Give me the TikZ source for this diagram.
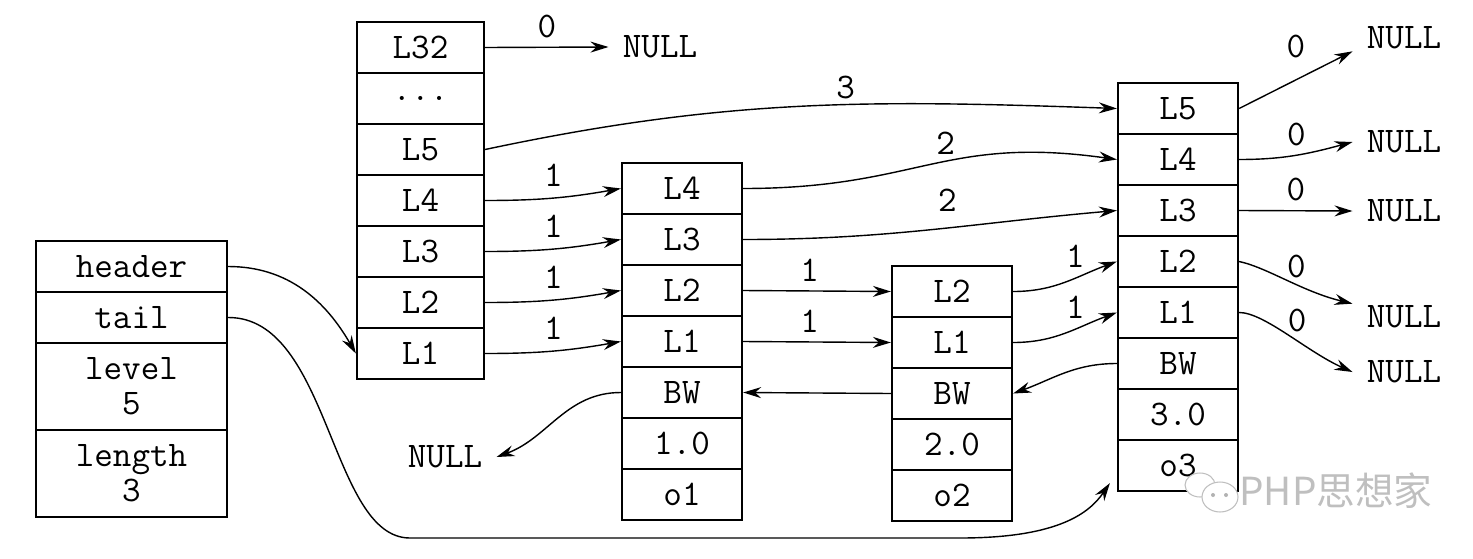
\documentclass[tikz,border=0pt]{standalone}
\usepackage{fontspec}
\newfontfamily\cjk{Noto Sans CJK SC}
\usepackage{tikz}
\usetikzlibrary{arrows.meta, positioning, calc}
\tikzset{
  cell/.style={rectangle, draw, line width=1.3pt, minimum width=2.4cm,
    minimum height=1.02cm, inner sep=0pt, align=center,
    font=\fontsize{20.5}{20}\selectfont\ttfamily},
  hdrcell/.style={cell, minimum width=2.54cm},
  infocell/.style={cell, minimum width=3.82cm},
  nullnode/.style={inner xsep=8pt, inner ysep=1pt, font=\fontsize{20.5}{20}\selectfont\ttfamily},
  lbl/.style={inner sep=3pt, font=\fontsize{20.5}{20}\selectfont\ttfamily},
  ptr/.style={-{Stealth[length=3.6mm, width=2.2mm, inset=1.2mm]}, line width=0.8pt}
}

\begin{document}
\begin{tikzpicture}[x=0.02cm, y=0.02cm]
  \useasboundingbox (0,0) rectangle (1473,-558);

  % Nodes: list struct
  \node[infocell] (header) at (131.5,-266.5) {header};
  \node[infocell] (tail) at (131.5,-317.5) {tail};
  \node[infocell, minimum height=1.74cm] (level) at (131.5,-386.5) {level\\5};
  \node[infocell, minimum height=1.74cm] (length) at (131.5,-473.5) {length\\3};

  % header node levels
  \node[hdrcell] (h32) at (420.5,-47.5) {L32};
  \node[hdrcell] (hdots) at (420.5,-98.5) {...};
  \foreach \nm/\txt [count=\i from 2] in {h5/L5, h4/L4, h3/L3, h2/L2, h1/L1}
    \node[hdrcell] (\nm) at (420.5,-47.5-51*\i) {\txt};

  % skiplist nodes
  \foreach \nm/\txt [count=\i from 0] in {n1l4/L4, n1l3/L3, n1l2/L2, n1l1/L1, n1bw/BW, n1sc/1.0, n1ob/o1}
    \node[cell] (\nm) at (682,-188.5-51*\i) {\txt};
  \foreach \nm/\txt [count=\i from 0] in {n2l2/L2, n2l1/L1, n2bw/BW, n2sc/2.0, n2ob/o2}
    \node[cell] (\nm) at (952,-291.5-51*\i) {\txt};
  \foreach \nm/\txt [count=\i from 0] in {n3l5/L5, n3l4/L4, n3l3/L3, n3l2/L2, n3l1/L1, n3bw/BW, n3sc/3.0, n3ob/o3}
    \node[cell] (\nm) at (1178,-108.5-51*\i) {\txt};

  % NULL ends
  \node[nullnode] (null32) at (660,-47) {NULL};
  \node[nullnode] (nullbw) at (445,-457) {NULL};
  \node[nullnode] (null5) at (1404,-38) {NULL};
  \node[nullnode] (null4) at (1404,-142) {NULL};
  \node[nullnode] (null3) at (1404,-211) {NULL};
  \node[nullnode] (null2) at (1404,-317) {NULL};
  \node[nullnode] (null1) at (1404,-372) {NULL};

  % Connections: header
  \draw[ptr] (header.east) to[out=0, in=120] (h1.west);
  \draw[ptr] (tail.east) .. controls (330,-317) and (330,-538) .. (410,-538)
    -- (960,-538) .. controls (1060,-538) and (1090,-512) .. ($(n3ob.south west)+(-7,9)$);
  \draw[ptr] (h32.east) -- node[lbl, above=2pt] {0} (null32.west);
  \draw[ptr] (h5.east) to[out=12, in=178] node[lbl, pos=0.58, above] {3} (n3l5.west);
  \draw[ptr] (h4.east) to[out=0, in=190] node[lbl, above=3pt] {1} (n1l4.west);
  \draw[ptr] (h3.east) to[out=0, in=190] node[lbl, above=3pt] {1} (n1l3.west);
  \draw[ptr] (h2.east) to[out=0, in=190] node[lbl, above=3pt] {1} (n1l2.west);
  \draw[ptr] (h1.east) to[out=0, in=190] node[lbl, above=3pt] {1} (n1l1.west);

  % node 1
  \draw[ptr] (n1l4.east) to[out=0, in=172, looseness=1.2] node[lbl, pos=0.55, above=1pt] {2} (n3l4.west);
  \draw[ptr] (n1l3.east) to[out=0, in=185] node[lbl, pos=0.55, above=6pt] {2} (n3l3.west);
  \draw[ptr] (n1l2.east) -- node[lbl, pos=0.45, above=2pt] {1} (n2l2.west);
  \draw[ptr] (n1l1.east) -- node[lbl, pos=0.45, above=2pt] {1} (n2l1.west);
  \draw[ptr] (n1bw.west) to[out=180, in=20] (nullbw.east);

  % node 2
  \draw[ptr] (n2l2.east) to[out=0, in=200] node[lbl, pos=0.6, above=3pt] {1} (n3l2.west);
  \draw[ptr] (n2l1.east) to[out=0, in=200] node[lbl, pos=0.6, above=3pt] {1} (n3l1.west);
  \draw[ptr] (n2bw.west) -- (n1bw.east);

  % node 3
  \draw[ptr] (n3bw.west) to[out=180, in=20] (n2bw.east);
  \draw[ptr] (n3l5.east) -- node[lbl, pos=0.5, above=9pt] {0} (null5.south west);
  \draw[ptr] (n3l4.east) to[out=0, in=195] node[lbl, above=2pt] {0} (null4.west);
  \draw[ptr] (n3l3.east) -- node[lbl, above=2pt] {0} (null3.west);
  \draw[ptr] (n3l2.east) .. controls +(28,-6) and +(-50,12) .. node[lbl, pos=0.5, xshift=5pt, yshift=8pt] {0} (null2.north west);
  \draw[ptr] (n3l1.east) .. controls +(25,0) and +(-45,20) .. node[lbl, pos=0.5, xshift=5pt, yshift=8pt] {0} (null1.west);

  % watermark
  \draw[black!25, line width=0.6pt, fill=white] (1200,-485) ellipse (0.3cm and 0.24cm);
  \draw[black!25, line width=0.6pt, fill=white] (1220,-497) ellipse (0.36cm and 0.3cm);
  \fill[black!30] (1213,-495) circle (0.04cm) (1226,-495) circle (0.04cm);
  \node[text=black!25, font=\cjk\fontsize{22}{24}\selectfont, inner sep=0pt] (wmark) at (1336,-491) {PHP思想家};
\end{tikzpicture}
\end{document}
